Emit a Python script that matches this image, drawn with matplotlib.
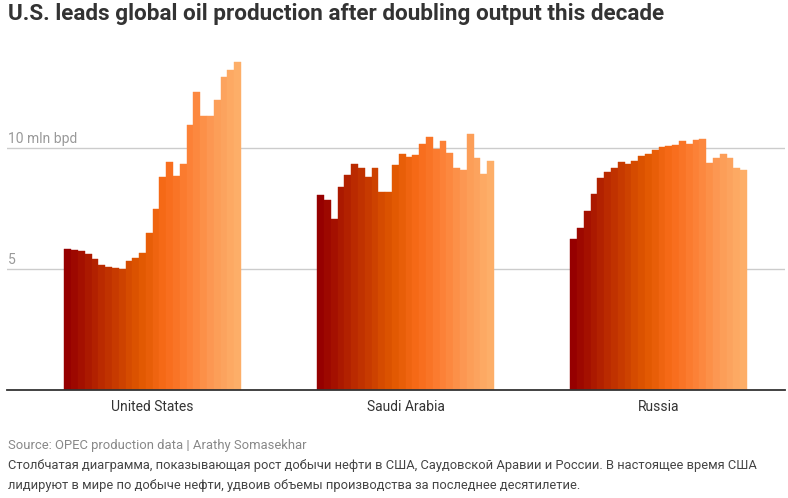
import numpy as np
import matplotlib.pyplot as plt
from matplotlib.colors import LinearSegmentedColormap
from matplotlib.transforms import blended_transform_factory

countries = ['United States', 'Saudi Arabia', 'Russia']

# million barrels per day, 26 yearly values per country
us = [5.81, 5.79, 5.74, 5.62, 5.41, 5.17, 5.10, 5.06, 5.00, 5.34, 5.45, 5.66, 6.50,
      7.46, 8.78, 9.42, 8.86, 9.34, 10.95, 12.30, 11.32, 11.31, 11.98, 12.92, 13.20, 13.54]
saudi = [8.04, 7.84, 7.07, 8.38, 8.87, 9.34, 9.19, 8.79, 9.16, 8.17, 8.17, 9.30, 9.74,
         9.63, 9.70, 10.15, 10.44, 9.95, 10.29, 9.79, 9.19, 9.10, 10.57, 9.57, 8.94, 9.45]
russia = [6.24, 6.69, 7.38, 8.09, 8.77, 9.00, 9.19, 9.41, 9.34, 9.46, 9.67, 9.75, 9.92,
          10.04, 10.07, 10.11, 10.28, 10.18, 10.32, 10.36, 9.39, 9.59, 9.74, 9.57, 9.16, 9.09]
series = [us, saudi, russia]

grid_ticks = [5, 10]
grid_labels = ['5', '10 mln bpd']

title = 'U.S. leads global oil production after doubling output this decade'
source = 'Source: OPEC production data | Arathy Somasekhar'
desc = ('Столбчатая диаграмма, показывающая рост добычи нефти в США, Саудовской Аравии и России. '
        'В настоящее время США\nлидируют в мире по добыче нефти, удвоив объемы производства '
        'за последнее десятилетие.')

plt.rcParams['font.family'] = ['Roboto', 'DejaVu Sans']

cmap = LinearSegmentedColormap.from_list(
    'oil', ['#960000', '#b01e00', '#c83c00', '#e05800', '#f76a18',
            '#fc8035', '#fc9a55', '#fdae68'])

fig = plt.figure(figsize=(7.88, 4.98), dpi=100)
ax = fig.add_axes([7 / 788, 108 / 498, 778 / 788, 335 / 498])

group_step = 37.2
n = len(us)
colors = [cmap(i / (n - 1)) for i in range(n)]
centers = []
for g, vals in enumerate(series):
    x = g * group_step + np.arange(len(vals))
    ax.bar(x, vals, width=1.0, color=colors, edgecolor=colors, linewidth=0.3, zorder=2)
    centers.append(x.mean())

ax.set_xlim(-8.93, 105.5)
ax.set_ylim(0, 13.84)

for s in ['top', 'right', 'left']:
    ax.spines[s].set_visible(False)
ax.spines['bottom'].set_color('#333333')
ax.spines['bottom'].set_linewidth(1.3)
ax.spines['bottom'].set_zorder(3)

ax.set_yticks([])
ax.set_xticks(centers)
ax.set_xticklabels(countries, fontsize=10, color='#333333')
ax.tick_params(axis='x', length=0, pad=7)

trans = blended_transform_factory(ax.transAxes, ax.transData)
for t, lab in zip(grid_ticks, grid_labels):
    ax.axhline(t, color='#cccccc', linewidth=1, zorder=1)
    ax.text(0.001, t + 0.08, lab, transform=trans, fontsize=10, color='#999999',
            ha='left', va='bottom')

fig.text(8 / 788, 1 - 3 / 498, title, fontsize=16.2, fontweight='bold', color='#333333',
         ha='left', va='top')
fig.text(8 / 788, 1 - 439 / 498, source, fontsize=9.4, color='#888888', ha='left', va='top')
fig.text(8 / 788, 1 - 459 / 498, desc, fontsize=9.3, color='#444444', ha='left', va='top',
         linespacing=1.68)

fig.savefig('out.png', dpi=100)
